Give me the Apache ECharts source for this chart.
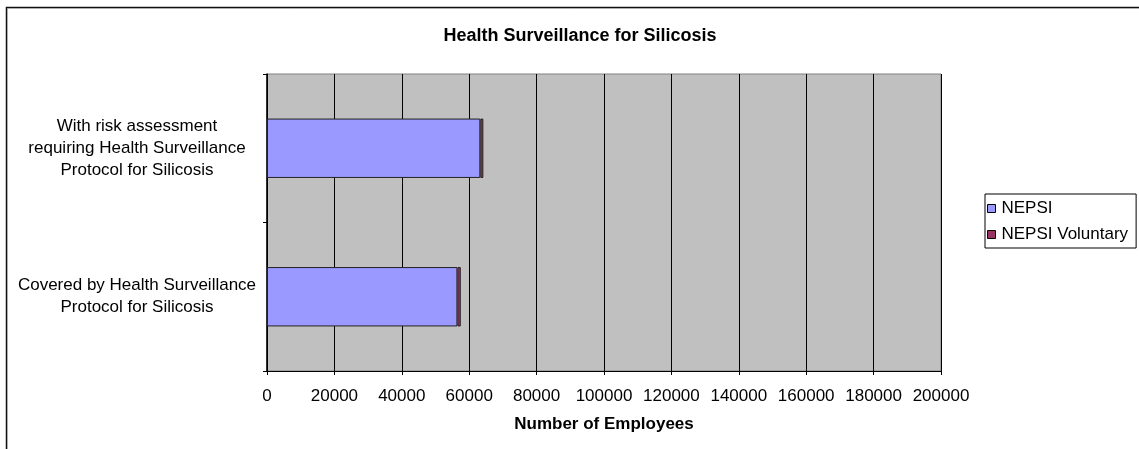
<!DOCTYPE html>
<html><head><meta charset="utf-8">
<script src="https://cdn.jsdelivr.net/npm/echarts@6/dist/echarts.min.js"></script>
<style>html,body{margin:0;padding:0;background:#fff}#c{width:1139px;height:449px}</style>
</head><body><div id="c"></div>
<script>
var categories = ['Covered by Health Surveillance\nProtocol for Silicosis', 'With risk assessment\nrequiring Health Surveillance\nProtocol for Silicosis'];
var nepsi = [56500, 63300];
var nepsiVoluntary = [1000, 900];
var seriesNames = ['NEPSI', 'NEPSI Voluntary'];

var chart = echarts.init(document.getElementById('c'));
var font = 'Liberation Sans, Arial, sans-serif';
chart.setOption({
  animation: false,
  textStyle: {fontFamily: font},
  graphic: [
    {type: 'rect', shape: {x: 6.5, y: 7.5, width: 1200, height: 600}, style: {fill: 'none', stroke: '#111', lineWidth: 1.5}, z: 0},
    {type: 'rect', shape: {x: 7.5, y: 8.5, width: 1200, height: 600}, style: {fill: 'none', stroke: '#999', lineWidth: 0.5}, z: 0}
  ],
  title: {
    text: 'Health Surveillance for Silicosis',
    left: 575, top: 22, textAlign: 'center',
    textStyle: {fontSize: 18, fontWeight: 'bold', color: '#000', fontFamily: font}
  },
  legend: {
    orient: 'vertical', left: 985, top: 194,
    itemWidth: 8, itemHeight: 8, itemGap: 9,
    padding: [6, 8, 5, 2],
    borderColor: '#000', borderWidth: 1, backgroundColor: '#fff',
    textStyle: {fontSize: 17, color: '#000', fontFamily: font, padding: [0, 0, 0, 1]},
    icon: 'rect',
    itemStyle: {borderColor: '#000', borderWidth: 1},
    data: seriesNames
  },
  grid: {left: 267, top: 74, right: 198, bottom: 78, containLabel: false,
    show: true, backgroundColor: '#C0C0C0', borderColor: '#808080', borderWidth: 1},
  xAxis: {
    type: 'value', min: 0, max: 200000, interval: 20000,
    name: 'Number of Employees', nameLocation: 'middle', nameGap: 45,
    nameTextStyle: {fontSize: 17, fontWeight: 'bold', color: '#000', fontFamily: font},
    axisLine: {show: true, lineStyle: {color: '#000', width: 1}},
    axisTick: {show: true, length: 4, lineStyle: {color: '#000'}},
    axisLabel: {fontSize: 17, color: '#000', margin: 17, fontFamily: font, formatter: function (v) { return String(v); }},
    splitLine: {show: true, lineStyle: {color: '#000', width: 1}}
  },
  yAxis: {
    type: 'category', data: categories,
    axisLine: {show: true, lineStyle: {color: '#000', width: 1.5}},
    axisTick: {show: true, length: 4, alignWithLabel: false, lineStyle: {color: '#000'}},
    axisLabel: {fontSize: 17, color: '#000', margin: 130, align: 'center', lineHeight: 22, fontFamily: font},
    splitLine: {show: false}
  },
  series: [
    {name: seriesNames[0], type: 'bar', stack: 'a', data: nepsi, barWidth: '40%',
     itemStyle: {color: '#9999FF', borderColor: '#222', borderWidth: 1}},
    {name: seriesNames[1], type: 'bar', stack: 'a', data: nepsiVoluntary, barWidth: '40%',
     itemStyle: {color: '#993366', borderColor: '#222', borderWidth: 1}}
  ]
});
</script></body></html>
